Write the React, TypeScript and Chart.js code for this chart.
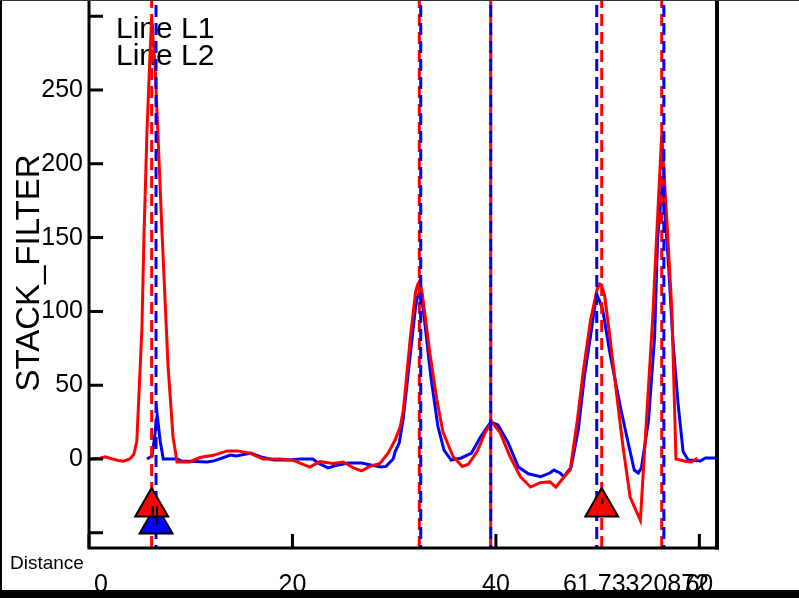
import React, { useEffect, useRef } from "react";
import { Chart, registerables } from "chart.js";
Chart.register(...registerables);

const distanceL1 = [0, 1.1, 1.6, 2.3, 2.9, 3.4, 4.0, 4.4, 4.7, 5.2, 5.4, 5.7, 5.95, 6.15, 6.5, 7.18, 7.77, 8.26, 8.65, 9.9, 10.9, 12.2, 13.6, 14.55, 15.8, 17.1, 18.8, 20.1, 21.7, 22.7, 24.0, 25.0, 26.0, 26.8, 27.6, 28.6, 29.4, 30.1, 30.6, 30.9, 31.6, 32.1, 32.3, 32.45, 32.6, 32.8, 33.5, 34.2, 34.8, 35.8, 36.7, 37.3, 38.15, 38.95, 39.6, 40.4, 41.4, 42.4, 43.4, 44.35, 45.3, 45.9, 46.6, 47.3, 48.0, 48.6, 49.3, 49.95, 50.2, 50.35, 50.5, 50.7, 51.2, 51.9, 52.5, 53.2, 54.2, 54.9, 55.4, 55.85, 56.3, 56.9, 57.3, 57.7, 58.6, 59.2, 59.8];
const valuesL1 = [0, 0.5, 1.5, 0, -1, -1.5, 0, 3, 12, 88, 150, 222, 266, 298, 266, 153, 63, 15, -2, -2, 1, 2.5, 5.5, 5.5, 4, 0, 0, -1, -5.5, -1.8, -3, -2, -6, -8, -5, -3, 4, 13, 22, 33, 83, 113, 118, 120, 118, 110, 72, 40, 18, 1.5, -5, -3.5, 5, 18, 25, 18, 1.5, -12, -19, -16, -15.5, -19, -13, -7.5, 26, 60, 94, 115, 118.5, 118, 115, 110, 83, 42, 8, -26, -41.5, 38, 94, 158, 220, 150, 100, 0, -1.5, -2, 0.5];

const distanceL2 = [5.7, 6.2, 6.45, 6.7, 7.0, 7.3, 8.7, 9.1, 11.6, 12.2, 13.1, 13.9, 14.5, 15.9, 16.9, 18.2, 19.6, 20.8, 22.0, 22.6, 23.5, 24.5, 25.5, 26.8, 27.7, 28.7, 29.2, 29.9, 30.1, 30.5, 30.9, 31.6, 32.1, 32.3, 32.5, 32.7, 32.9, 33.6, 34.3, 34.9, 35.6, 36.6, 37.6, 38.5, 39.5, 40.2, 41.2, 42.2, 43.2, 44.4, 45.3, 45.7, 46.3, 46.7, 47.4, 48.1, 48.7, 49.4, 49.8, 50.0, 50.2, 50.5, 51.2, 52.3, 53.0, 53.6, 54.0, 54.3, 55.0, 55.6, 55.9, 56.4, 57.0, 57.4, 57.9, 58.4, 58.9, 60.1, 60.6, 61.73];
const valuesL2 = [0, 2, 15, 30, 12, 0, 0, -1.4, -2, -1.4, 0.7, 2.7, 2, 4, 1.4, -0.7, -0.7, 0, 0, -3, -6, -4, -2.7, -2.7, -4, -5.4, -5, 0, 5, 11, 28, 72, 103, 110, 113, 108, 99, 56, 22, 6, -0.7, 0.7, 4, 15, 25, 23, 11, -5.4, -10, -12, -9.5, -7.5, -9.5, -12, -5.4, 20, 56, 88, 107, 110, 107, 101, 72, 33, 11, -7.5, -9.5, -6, 26, 83, 150, 190, 128, 80, 38, 5, -0.7, -1.4, 0.7, 0.7];

const markersL1 = [6.16, 32.47, 39.49, 50.4, 56.3];
const markersL2 = [6.59, 32.61, 39.49, 49.91, 56.51];
const triangleL1X = [6.16, 50.4];
const triangleL1Y = [-32.5, -32.5];
const triangleL2X = [6.59];
const triangleL2Y = [-44];
// short black bars inside the triangles
const barX = [6.26, 6.68, 50.45];
const barLow = [-37.9, -44.7, -30.5];
const barHigh = [-31.8, -31.8, -26.4];

const X_MIN = 0;
const X_MAX = 61.73320872;
const Y_MIN = -60.3;
const Y_MAX = 311;
const xTickValues = [0, 20, 40, 60];
const yTickValues = [-50, 0, 50, 100, 150, 200, 250, 300];
const yLabelValues = [0, 50, 100, 150, 200, 250];
const legendLabels = ["Line L1", "Line L2"];
const yTitle = "STACK_FILTER";
const xTitle = "Distance";
const FONT = "'Liberation Sans', Arial, sans-serif";

const RED = "#ff0000";
const BLUE = "#0000ff";

function pts(xs: number[], ys: number[]) {
  return xs.map((x, i) => ({ x, y: ys[i] }));
}

const decorPlugin = {
  id: "decor",
  beforeDraw(chart: any) {
    const ctx = chart.ctx;
    ctx.save();
    ctx.fillStyle = "#ffffff";
    ctx.fillRect(0, 0, chart.width, chart.height);
    ctx.restore();
  },
  beforeDatasetsDraw(chart: any) {
    const ctx = chart.ctx;
    ctx.save();
    ctx.fillStyle = "#000";
    ctx.font = `30px ${FONT}`;
    ctx.textAlign = "left";
    ctx.textBaseline = "alphabetic";
    ctx.fillText(legendLabels[0], 116, 38);
    ctx.fillText(legendLabels[1], 116, 65);
    ctx.restore();
  },
  afterDraw(chart: any) {
    const ctx = chart.ctx;
    const { left, right, top, bottom } = chart.chartArea;
    const xs = chart.scales.x;
    const ys = chart.scales.y;
    ctx.save();
    ctx.strokeStyle = "#000";
    ctx.fillStyle = "#000";
    // axes
    ctx.lineWidth = 3;
    ctx.beginPath();
    ctx.moveTo(left, top);
    ctx.lineTo(left, bottom + 1.5);
    ctx.moveTo(left - 1.5, bottom);
    ctx.lineTo(right + 2, bottom);
    ctx.stroke();
    ctx.lineWidth = 4;
    ctx.beginPath();
    ctx.moveTo(right, top);
    ctx.lineTo(right, bottom + 1.5);
    ctx.stroke();
    // ticks
    ctx.lineWidth = 3;
    ctx.beginPath();
    for (const v of yTickValues) {
      const py = ys.getPixelForValue(v);
      ctx.moveTo(left, py);
      ctx.lineTo(left + 14, py);
    }
    for (const v of xTickValues) {
      const px = xs.getPixelForValue(v);
      ctx.moveTo(px, bottom);
      ctx.lineTo(px, bottom - 14);
    }
    ctx.stroke();
    // y labels
    ctx.font = `25px ${FONT}`;
    ctx.textAlign = "right";
    ctx.textBaseline = "middle";
    for (const v of yLabelValues) {
      ctx.fillText(String(v), left - 6, ys.getPixelForValue(v));
    }
    // x labels
    ctx.textBaseline = "alphabetic";
    for (const v of xTickValues) {
      const px = xs.getPixelForValue(v);
      if (v === X_MIN) {
        ctx.textAlign = "left";
        ctx.fillText(String(v), px + 5, 592);
      } else {
        ctx.textAlign = "center";
        ctx.fillText(String(v), px, 592);
      }
    }
    ctx.textAlign = "right";
    ctx.fillText(String(X_MAX), xs.getPixelForValue(X_MAX) - 8, 592);
    // axis titles
    ctx.font = `19px ${FONT}`;
    ctx.textAlign = "left";
    ctx.fillText(xTitle, 10, 569);
    ctx.save();
    ctx.translate(30, 273);
    ctx.rotate(-Math.PI / 2);
    ctx.font = `33px ${FONT}`;
    ctx.textAlign = "center";
    ctx.textBaseline = "middle";
    ctx.fillText(yTitle, 0, 0);
    ctx.restore();
    // outer frame
    ctx.fillStyle = "#000";
    ctx.fillRect(0, 0, 2, chart.height);
    ctx.fillRect(0, 590, chart.width, chart.height - 590);
    ctx.fillStyle = "#333";
    ctx.fillRect(0, 0, chart.width, 1);
    ctx.restore();
  },
};

export default function App() {
  const ref = useRef<HTMLCanvasElement | null>(null);
  useEffect(() => {
    if (!ref.current) return;
    const markerSets: any[] = [];
    markersL1.forEach((m) =>
      markerSets.push({
        type: "line",
        data: [{ x: m, y: Y_MIN }, { x: m, y: Y_MAX }],
        borderColor: RED,
        borderWidth: 3,
        borderDash: [12, 6],
        pointRadius: 0,
        order: 3,
      })
    );
    markersL2.forEach((m) =>
      markerSets.push({
        type: "line",
        data: [{ x: m, y: Y_MIN }, { x: m, y: Y_MAX }],
        borderColor: BLUE,
        borderWidth: 3,
        borderDash: [12, 6],
        borderDashOffset: 9,
        pointRadius: 0,
        order: 2,
      })
    );
    const barSets: any[] = barX.map((bx, i) => ({
      type: "line",
      data: [{ x: bx, y: barLow[i] }, { x: bx, y: barHigh[i] }],
      borderColor: "#000",
      borderWidth: 2,
      pointRadius: 0,
      order: -1,
    }));
    const chart = new Chart(ref.current, {
      type: "line",
      data: {
        datasets: [
          ...barSets,
          {
            data: pts(triangleL1X, triangleL1Y),
            showLine: false,
            pointStyle: "triangle",
            pointRadius: 19,
            backgroundColor: RED,
            borderColor: "#000",
            pointBorderWidth: 2,
            order: 0,
          },
          {
            data: pts(triangleL2X, triangleL2Y),
            showLine: false,
            pointStyle: "triangle",
            pointRadius: 19,
            backgroundColor: BLUE,
            borderColor: "#000",
            pointBorderWidth: 2,
            order: 1,
          },
          ...markerSets,
          {
            data: pts(distanceL1, valuesL1),
            borderColor: RED,
            borderWidth: 3,
            pointRadius: 0,
            tension: 0,
            order: 4,
          },
          {
            data: pts(distanceL2, valuesL2),
            borderColor: BLUE,
            borderWidth: 3,
            pointRadius: 0,
            tension: 0,
            order: 5,
          },
        ] as any,
      },
      options: {
        animation: false,
        responsive: false,
        devicePixelRatio: 1,
        layout: { autoPadding: false, padding: { left: 89, right: 82, top: 0, bottom: 50 } },
        scales: {
          x: { type: "linear", display: false, min: X_MIN, max: X_MAX },
          y: { type: "linear", display: false, min: Y_MIN, max: Y_MAX },
        },
        plugins: { legend: { display: false }, tooltip: { enabled: false } },
        events: [],
      },
      plugins: [decorPlugin],
    });
    return () => chart.destroy();
  }, []);
  return (
    <div style={{ position: "fixed", left: 0, top: 0, width: 799, height: 598, background: "#fff" }}>
      <canvas ref={ref} width={799} height={598} style={{ display: "block" }} />
    </div>
  );
}
